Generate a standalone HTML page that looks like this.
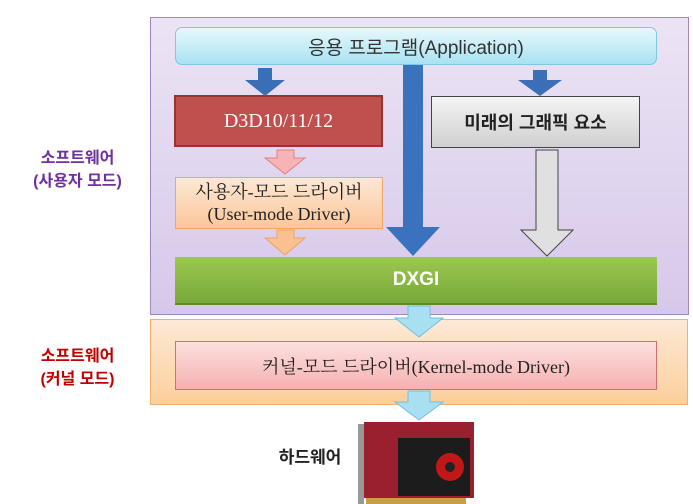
<!DOCTYPE html>
<html><head><meta charset="utf-8"><style>
body{margin:0;width:693px;height:504px;background:#fff;position:relative;overflow:hidden;font-family:"Liberation Sans","Noto Sans CJK KR",sans-serif}
.a{position:absolute;box-sizing:border-box;display:flex;align-items:center;justify-content:center;text-align:center}
</style></head><body>
<div class="a" style="left:150px;top:17px;width:539px;height:298px;background:linear-gradient(#ece4f4,#d6c8ea);border:1px solid #9b86c0"></div>
<div class="a" style="left:150px;top:319px;width:538px;height:86px;background:linear-gradient(#fde9d6,#fbcf9c);border:1px solid #f0b070"></div>
<div class="a" style="left:175px;top:27px;width:482px;height:38px;background:linear-gradient(#e8f8fc,#a8e2f2);border:1px solid #7cc8e0;border-radius:7px;font-size:19px;color:#333">응용 프로그램(Application)</div>
<div class="a" style="left:174px;top:95px;width:209px;height:52px;background:#c0504d;border:2px solid #9a3330;color:#fff;font-family:'Liberation Serif','Noto Serif CJK SC',serif;font-size:20px">D3D10/11/12</div>
<div class="a" style="left:431px;top:96px;width:209px;height:52px;background:linear-gradient(#f4f4f4,#d0d0d0);border:1px solid #444;font-size:18px;font-weight:bold;color:#222">미래의 그래픽 요소</div>
<div class="a" style="left:175px;top:177px;width:208px;height:52px;background:linear-gradient(#fde8d4,#fbc79a);border:1px solid #f0a860;font-family:'Liberation Serif','Noto Serif CJK SC',serif;font-size:18px;line-height:22px;color:#222">사용자-모드 드라이버<br>(User-mode Driver)</div>
<div class="a" style="left:175px;top:257px;width:482px;height:48px;background:linear-gradient(#9bc850,#78a838);border-bottom:2px solid #5f8a28;color:#fff;font-weight:bold;font-size:19px">DXGI</div>
<div class="a" style="left:175px;top:341px;width:482px;height:49px;background:linear-gradient(#fde0e0,#f6b0b0);border:1px solid #d07070;font-family:'Liberation Serif','Noto Serif CJK SC',serif;font-size:18px;color:#222">커널-모드 드라이버(Kernel-mode Driver)</div>
<div class="a" style="left:10px;top:145px;width:135px;height:50px;color:#7030a0;font-weight:bold;font-size:16px;line-height:23px">소프트웨어<br>(사용자 모드)</div>
<div class="a" style="left:10px;top:343px;width:135px;height:50px;color:#c00000;font-weight:bold;font-size:16px;line-height:23px">소프트웨어<br>(커널 모드)</div>
<div class="a" style="left:265px;top:440px;width:90px;height:30px;font-weight:bold;font-size:17px;color:#222">하드웨어</div>
<svg width="693" height="504" style="position:absolute;left:0;top:0">
<polygon points="258,68 272,68 272,80 285,80 265,96 245,80 258,80" fill="#3a6fb8"/>
<polygon points="533,70 547,70 547,80 562,80 540,96 518,80 533,80" fill="#3a6fb8"/>
<polygon points="403,65 423,65 423,227 440,227 413,256 386,227 403,227" fill="#3a72be"/>
<polygon points="536,150 558,150 558,230 573,230 547,256 521,230 536,230" fill="#e0e0e0" stroke="#444"/>
<polygon points="277,150 294,150 294,158 305,158 285,174 265,158 277,158" fill="#f8b4b4" stroke="#e08080"/>
<polygon points="277,230 294,230 294,238 305,238 285,255 265,238 277,238" fill="#fbc090" stroke="#f0a060"/>
<polygon points="408,306 430,306 430,318 443,318 419,337 395,318 408,318" fill="#a8e0f2" stroke="#70c0dc"/>
<polygon points="408,391 430,391 430,402 443,402 419,420 395,402 408,402" fill="#a8e0f2" stroke="#70c0dc"/>
<rect x="358" y="424" width="6" height="80" fill="#999"/>
<rect x="364" y="422" width="110" height="76" fill="#9a2030"/>
<rect x="398" y="438" width="72" height="58" fill="#1c1c1c"/>
<circle cx="450" cy="467" r="14" fill="#c01818"/>
<circle cx="450" cy="467" r="5" fill="#222"/>
<rect x="366" y="498" width="100" height="6" fill="#c8a040"/>
</svg>
</body></html>
